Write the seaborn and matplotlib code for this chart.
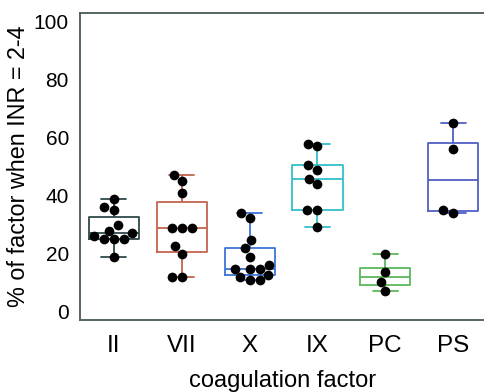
import numpy as np
import pandas as pd
import seaborn as sns
import matplotlib.pyplot as plt

# values
factors = ["II", "VII", "X", "IX", "PC", "PS"]
f_II = [39, 36, 35, 30, 28, 27, 26, 25, 25, 25, 19]
f_VII = [47, 45, 41, 28.8, 28.8, 28.8, 22.5, 20, 12, 12]
f_X = [34.2, 32.3, 24.8, 22, 19, 16.2, 14.9, 14.9, 14.9, 12.8, 12, 11, 11]
f_IX = [57.9, 57, 50.5, 49, 45.7, 44, 35.1, 35.1, 29.1]
f_PC = [20, 13.6, 10.1, 7]
f_PS = [65, 56, 35, 34]
colors = ["#2f4a4c", "#c4634d", "#3d74d6", "#33bfcc", "#5cb85c", "#5060c6"]

values = [f_II, f_VII, f_X, f_IX, f_PC, f_PS]
df = pd.DataFrame({
    "factor": np.repeat(factors, [len(v) for v in values]),
    "pct": np.concatenate(values),
})
pal = dict(zip(factors, colors))

sns.set_style("white")
plt.rcParams['font.family'] = ['Liberation Sans', 'DejaVu Sans']
plt.rcParams['text.color'] = 'black'
plt.rcParams['axes.labelcolor'] = 'black'
plt.rcParams['xtick.color'] = 'black'
plt.rcParams['ytick.color'] = 'black'

fig = plt.figure(figsize=(4.85, 3.92), dpi=100)
ax = fig.add_axes([0.165, 0.184, 0.835, 0.783])

sns.boxplot(data=df, x="factor", y="pct", hue="factor", palette=pal,
            order=factors, fill=False, width=0.74, whis=(0, 100),
            showfliers=False, linewidth=1.3, legend=False, ax=ax)
sns.swarmplot(data=df, x="factor", y="pct", order=factors, color="black",
              size=7, ax=ax)

ax.set_ylim(-2.8, 103)
ax.set_xlim(-0.5, 5.47)
ax.set_yticks([0, 20, 40, 60, 80, 100])
ax.set_xlabel("coagulation factor", fontsize=17, labelpad=9)
ax.set_ylabel("% of factor when INR = 2-4", fontsize=16.8, labelpad=3)
ax.tick_params(direction="in", length=5, width=1, color="#4a5858")
ax.tick_params(axis="x", pad=11, labelsize=17.5)
ax.tick_params(axis="y", pad=8, labelsize=15)
for s in ax.spines.values():
    s.set_color("#4a5858")
    s.set_linewidth(1.3)

fig.savefig("out.png", dpi=100)
